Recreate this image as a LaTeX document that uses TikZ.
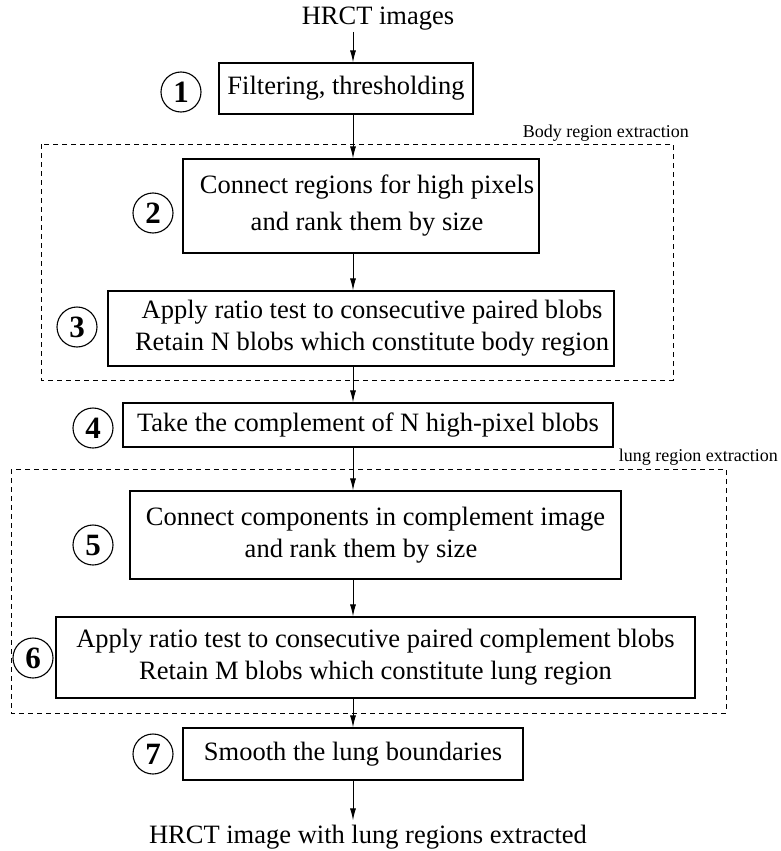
\documentclass[tikz,border=0pt]{standalone}
\usepackage{fontspec}
\setmainfont{Liberation Serif}
\usetikzlibrary{arrows.meta}

\begin{document}
\begin{tikzpicture}[x=1pt, y=-1pt,
  stepbox/.style={draw, line width=1.1pt, inner sep=0pt, align=center,
    font=\fontsize{26.5}{32}\selectfont},
  num/.style={draw, circle, line width=1.1pt, minimum size=40pt, inner sep=0pt,
    font=\fontsize{31}{31}\selectfont\bfseries},
  region/.style={draw, line width=0.9pt, dash pattern=on 5pt off 4pt},
  regionlabel/.style={anchor=base east, inner sep=0pt, font=\fontsize{18}{18}\selectfont},
  flow/.style={-{Latex[length=12pt,width=6pt]}, line width=1pt},
  iotext/.style={font=\fontsize{26.5}{32}\selectfont},
]
\useasboundingbox (0,0) rectangle (780,851);

% vertical axis of the flow
\coordinate (axis) at (353,0);

% input and output
\node[iotext, anchor=base, inner sep=1pt] (in) at (378,25) {HRCT images};
\node[iotext, anchor=base, inner sep=4pt] (out) at (368,843) {HRCT image with lung regions extracted};

% grouping frames
\draw[region] (41,144) rectangle (673,380);
\node[regionlabel] (bodylbl) at (689,137) {Body region extraction};
\draw[region] (11,469) rectangle (726,713);
\node[regionlabel] (lunglbl) at (778,461) {lung region extraction};

% processing steps
\node[stepbox, minimum width=254pt, minimum height=51pt] (b1) at (346,88.5)
  {Filtering, thresholding};
\node[stepbox, minimum width=356pt, minimum height=94pt,
  font=\fontsize{26.5}{37}\selectfont] (b2) at (361,206)
  {\hspace*{12pt}Connect regions for high pixels\\\hspace*{12pt}and rank them by size};
\node[stepbox, minimum width=506pt, minimum height=75pt] (b3) at (361,328.5)
  {\hspace*{22pt}Apply ratio test to consecutive paired blobs\\\hspace*{22pt}Retain N blobs which constitute body region};
\node[stepbox, minimum width=490pt, minimum height=44pt] (b4) at (368,425)
  {Take the complement of N high-pixel blobs};
\node[stepbox, minimum width=491pt, minimum height=88pt] (b5) at (375.5,535)
  {Connect components in complement image\\and rank them by size\hspace*{29pt}};
\node[stepbox, minimum width=639pt, minimum height=81pt] (b6) at (375.5,657.5)
  {Apply ratio test to consecutive paired complement blobs\\Retain M blobs which constitute lung region};
\node[stepbox, minimum width=340pt, minimum height=52pt] (b7) at (353,754)
  {Smooth the lung boundaries};

% step numbers
\node[num] (n1) at (181,92) {1};
\node[num] (n2) at (153,213) {2};
\node[num] (n3) at (77,327) {3};
\node[num] (n4) at (93,428) {4};
\node[num] (n5) at (93,545) {5};
\node[num] (n6) at (33,658) {6};
\node[num] (n7) at (153,754) {7};

% connectors
\draw[flow] (in.south -| axis) -- (b1.north -| axis);
\draw[flow] (b1.south -| axis) -- (b2.north -| axis);
\draw[flow] (b2.south -| axis) -- (b3.north -| axis);
\draw[flow] (b3.south -| axis) -- (b4.north -| axis);
\draw[flow] (b4.south -| axis) -- (b5.north -| axis);
\draw[flow] (b5.south -| axis) -- (b6.north -| axis);
\draw[flow] (b6.south -| axis) -- (b7.north -| axis);
\draw[flow] (b7.south -| axis) -- (out.north -| axis);
\end{tikzpicture}
\end{document}
